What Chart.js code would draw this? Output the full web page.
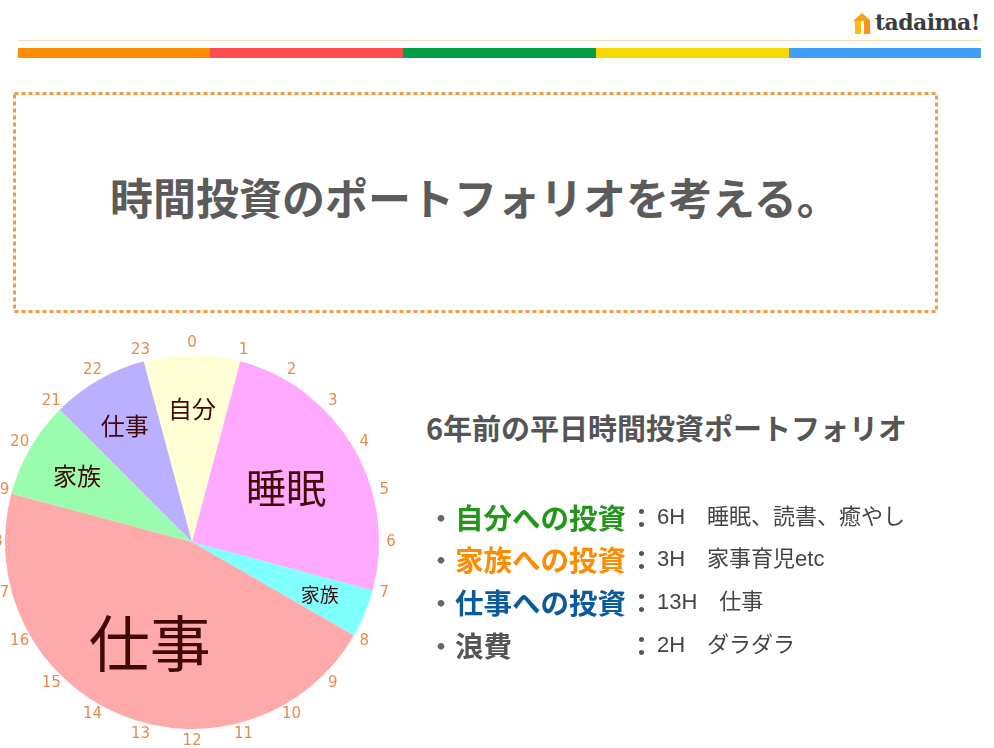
<!DOCTYPE html>
<html lang="ja">
  <head>
    <meta charset="UTF-8" />
    <title>時間投資のポートフォリオを考える。</title>
    <script src="https://cdn.jsdelivr.net/npm/chart.js@4.4.1/dist/chart.umd.min.js"></script>
    <style>
      html,
      body {
        margin: 0;
        padding: 0;
        background: #fff;
      }
      body {
        width: 994px;
        height: 748px;
        position: relative;
        overflow: hidden;
        font-family: 'Liberation Sans', 'Noto Sans CJK JP', sans-serif;
        color: #555;
      }
      .abs {
        position: absolute;
      }
      .logo-text {
        left: 875px;
        top: 9px;
        font-family: 'DejaVu Serif', serif;
        font-weight: bold;
        font-size: 22px;
        color: #3c3c3c;
        letter-spacing: -0.6px;
      }
      .roof {
        left: 853px;
        top: 13px;
        width: 0;
        height: 0;
        border-left: 9px solid transparent;
        border-right: 9px solid transparent;
        border-bottom: 8px solid #f7a21b;
      }
      .leg {
        top: 21px;
        width: 6px;
        height: 13px;
      }
      .topline {
        left: 18px;
        top: 40px;
        width: 963px;
        height: 1px;
        background: #f2ddb4;
      }
      .bar {
        top: 48px;
        height: 10px;
      }
      .title {
        left: 110px;
        top: 91px;
        height: 221px;
        line-height: 211px;
        white-space: nowrap;
        font-family: 'Noto Sans CJK JP', sans-serif;
        font-weight: bold;
        font-size: 43px;
        color: #5b5b5b;
      }
      #chartBox {
        left: 0;
        top: 330px;
        width: 400px;
        height: 424px;
      }
      .subtitle {
        left: 426px;
        top: 407px;
        white-space: nowrap;
        font-family: 'Noto Sans CJK JP', sans-serif;
        font-weight: bold;
        font-size: 29px;
        line-height: 40px;
        color: #555;
      }
      .row {
        left: 0;
        height: 40px;
        line-height: 40px;
        width: 994px;
      }
      .row span {
        position: absolute;
        top: 0;
        white-space: nowrap;
      }
      .dot {
        left: 428px;
        font-size: 26px;
        font-weight: bold;
        color: #666;
        font-family: 'Noto Sans CJK JP', sans-serif;
      }
      .label {
        left: 455px;
        font-family: 'Noto Sans CJK JP', sans-serif;
        font-weight: bold;
        font-size: 28.5px;
      }
      .colon {
        left: 628px;
        font-family: 'Noto Sans CJK JP', sans-serif;
        font-weight: bold;
        font-size: 27px;
        color: #555;
      }
      .detail {
        left: 657px;
        font-size: 22px;
        color: #444;
      }
    </style>
  </head>
  <body>
    <div class="abs roof"></div>
    <div class="abs leg" style="left: 855px; background: #fdbb12"></div>
    <div class="abs leg" style="left: 864px; background: #f7941d"></div>
    <div class="abs logo-text">tadaima!</div>
    <div class="abs topline"></div>
    <div class="abs bar" style="left: 18px; width: 192px; background: #ff8c00"></div>
    <div class="abs bar" style="left: 210px; width: 193px; background: #ff4b4b"></div>
    <div class="abs bar" style="left: 403px; width: 193px; background: #009e45"></div>
    <div class="abs bar" style="left: 596px; width: 193px; background: #f8d800"></div>
    <div class="abs bar" style="left: 789px; width: 192px; background: #40a0f8"></div>

    <svg class="abs" style="left: 0; top: 0" width="994" height="330">
      <rect
        x="14.5"
        y="93.5"
        width="922"
        height="218"
        fill="none"
        stroke="#f29a45"
        stroke-width="3"
        stroke-dasharray="4 3"
      />
    </svg>
    <div class="abs title">時間投資のポートフォリオを考える。</div>

    <div class="abs" id="chartBox"><canvas id="pieChart"></canvas></div>

    <div class="abs subtitle">6年前の平日時間投資ポートフォリオ</div>
    <div id="rows"></div>

    <script>
      // pie: hours of a weekday, clockwise from 23:00
      const sliceLabels = ['自分', '睡眠', '家族', '仕事', '家族', '仕事'];
      const sliceHours = [2, 6, 1, 11, 2, 2];
      const startHour = 23;
      const hourLabels = [
        '0', '1', '2', '3', '4', '5', '6', '7', '8', '9', '10', '11',
        '12', '13', '14', '15', '16', '17', '18', '19', '20', '21', '22', '23',
      ];

      // list on the right
      const itemNames = ['自分への投資', '家族への投資', '仕事への投資', '浪費'];
      const itemHours = ['6H', '3H', '13H', '2H'];
      const itemNotes = ['睡眠、読書、癒やし', '家事育児etc', '仕事', 'ダラダラ'];

      const sliceColors = ['#ffffd6', '#ffaaff', '#80ffff', '#ffaaaa', '#9afcad', '#bbb0ff'];
      const sliceFontSizes = [24, 40, 19, 61, 24, 24];
      const sliceLabelRadius = [0.71, 0.58, 0.74, 0.59, 0.71, 0.72];
      const itemColors = ['#23961c', '#ff8c00', '#0b5a9e', '#555555'];
      const rowTops = [497, 539, 582, 625];

      const rowsEl = document.getElementById('rows');
      itemNames.forEach(function (name, i) {
        const row = document.createElement('div');
        row.className = 'abs row';
        row.style.top = rowTops[i] + 'px';
        row.innerHTML =
          '<span class="dot">・</span>' +
          '<span class="label" style="color:' + itemColors[i] + '">' + name + '</span>' +
          '<span class="colon">：</span>' +
          '<span class="detail">' + itemHours[i] + '\u3000' + itemNotes[i] + '</span>';
        rowsEl.appendChild(row);
      });

      const clockLabels = {
        id: 'clockLabels',
        afterDraw: function (chart) {
          const ctx = chart.ctx;
          const arcs = chart.getDatasetMeta(0).data;
          if (!arcs.length) return;
          const cx = arcs[0].x;
          const cy = arcs[0].y;
          const R = arcs[0].outerRadius;
          ctx.save();
          ctx.textAlign = 'center';
          ctx.textBaseline = 'middle';

          // slice names
          arcs.forEach(function (arc, i) {
            const mid = (arc.startAngle + arc.endAngle) / 2;
            const r = R * sliceLabelRadius[i];
            ctx.font = sliceFontSizes[i] + 'px "Noto Sans CJK JP", sans-serif';
            ctx.fillStyle = '#420808';
            ctx.fillText(sliceLabels[i], cx + Math.cos(mid) * r, cy + Math.sin(mid) * r);
          });

          // hour ticks round the clock
          ctx.font = '15px "DejaVu Sans", sans-serif';
          ctx.fillStyle = '#e98a4c';
          hourLabels.forEach(function (t, h) {
            const a = (h / hourLabels.length) * Math.PI * 2 - Math.PI / 2;
            const r = R + 12;
            ctx.fillText(t, cx + Math.cos(a) * r, cy + Math.sin(a) * r);
          });
          ctx.restore();
        },
      };

      new Chart(document.getElementById('pieChart'), {
        type: 'pie',
        data: {
          labels: sliceLabels,
          datasets: [
            {
              data: sliceHours,
              backgroundColor: sliceColors,
              borderWidth: 0,
              hoverOffset: 0,
            },
          ],
        },
        options: {
          responsive: true,
          maintainAspectRatio: false,
          animation: false,
          rotation: (startHour / hourLabels.length) * 360,
          layout: { padding: { left: 5, right: 21, top: 25, bottom: 25 } },
          plugins: {
            legend: { display: false },
            tooltip: { enabled: false },
          },
        },
        plugins: [clockLabels],
      });
    </script>
  </body>
</html>
